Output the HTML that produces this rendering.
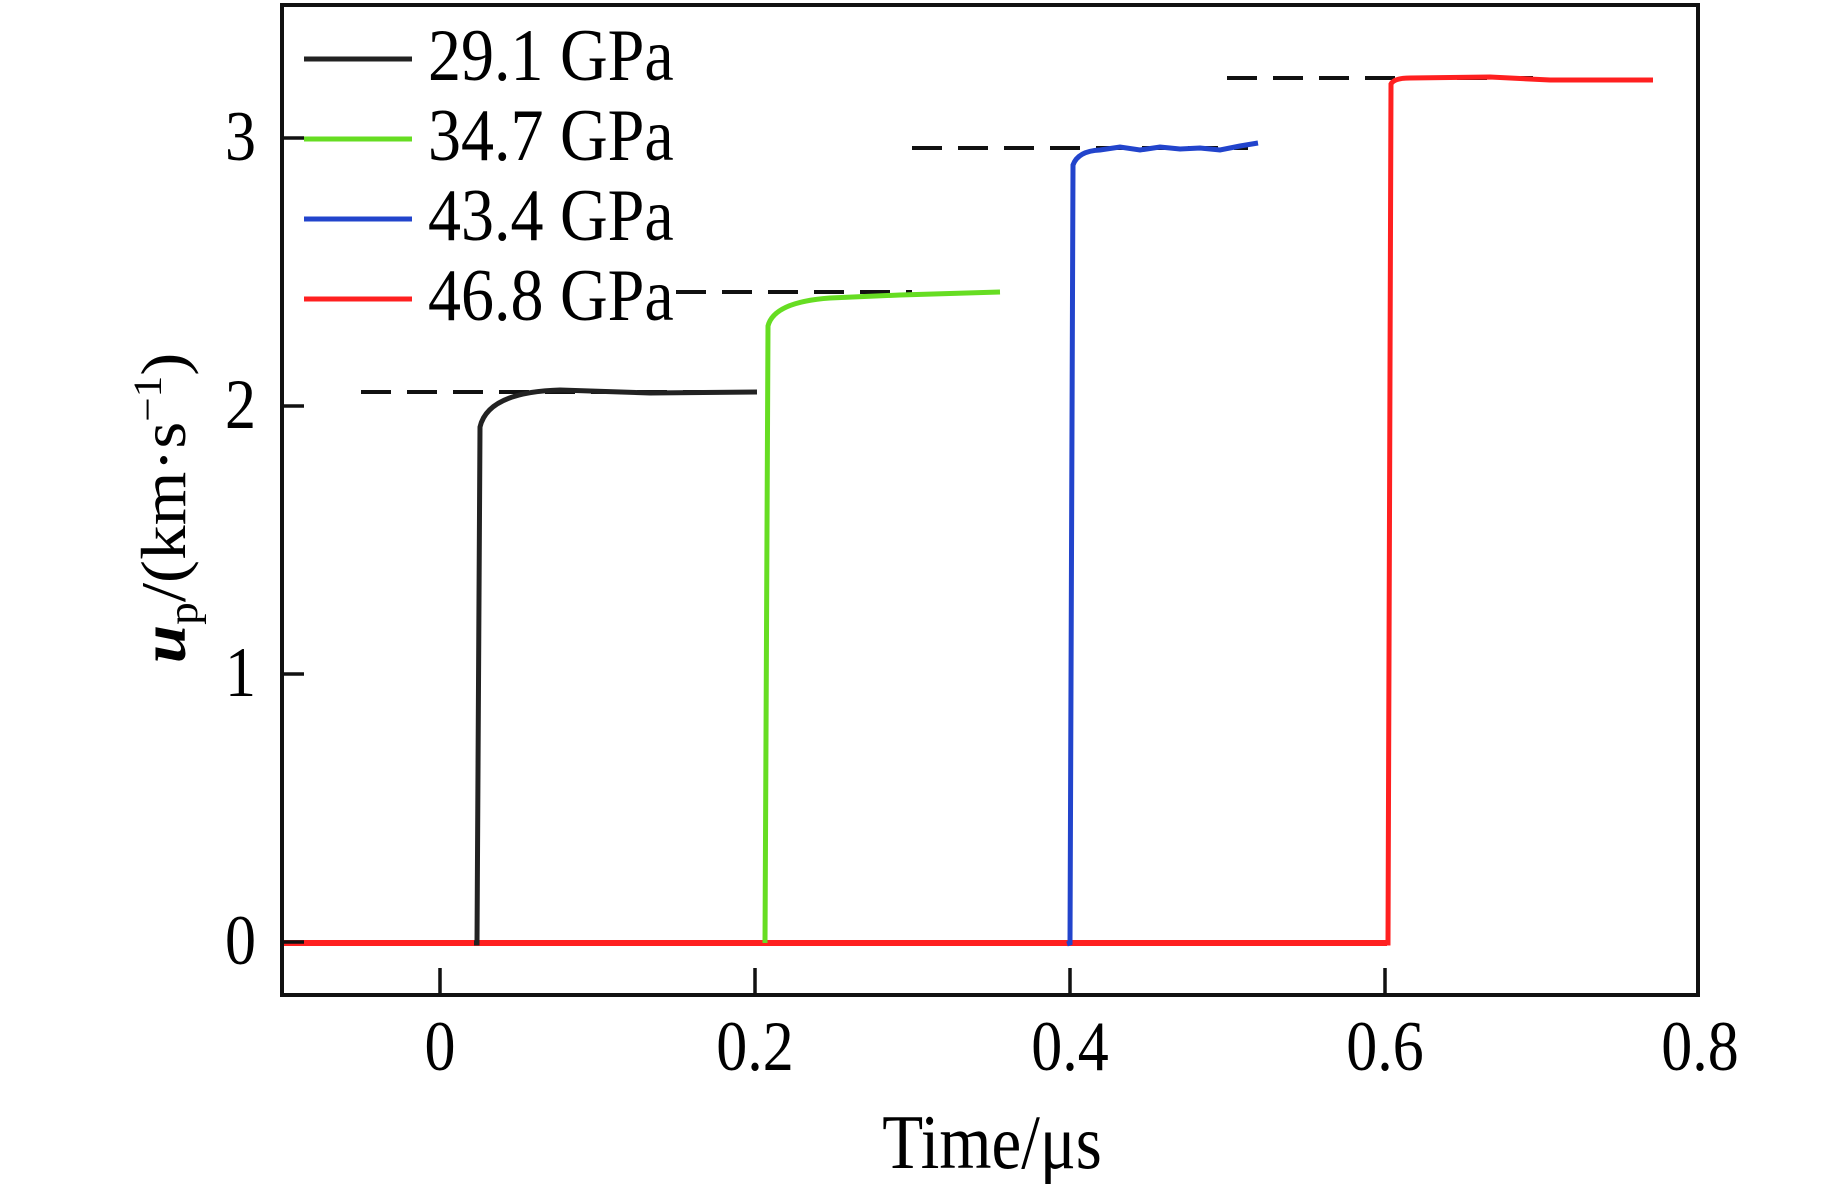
<!DOCTYPE html>
<html><head><meta charset="utf-8"><style>
html,body{margin:0;padding:0;background:#fff;}
svg{display:block;}
text{font-family:"Liberation Serif",serif;fill:#000;}
</style></head><body>
<svg width="1843" height="1184" viewBox="0 0 1843 1184" xmlns="http://www.w3.org/2000/svg">
<rect width="1843" height="1184" fill="#fff"/>
<path d="M282 943 L480 943" stroke="#222" stroke-width="4" fill="none"/>
<path d="M282 943 L765 943" stroke="#66dd22" stroke-width="4" fill="none"/>
<path d="M282 944 L1067 944" stroke="#2244cc" stroke-width="3" fill="none"/>
<path d="M282 943 L1387 943" stroke="#ff2020" stroke-width="6" fill="none"/>
<g stroke="#111" stroke-width="4" stroke-dasharray="30,16" fill="none">
<path d="M361 392 L755 392"/>
<path d="M676 292 L912 292"/>
<path d="M912 148 L1248 148"/>
<path d="M1227 78 L1542 78"/>
</g>
<path d="M474 943 L477 943 L480 427 Q488 392 560 390 L650 393 L757 392" stroke="#222" stroke-width="5" fill="none"/>
<path d="M765 943 L768 326 Q774 302 830 298 L900 295 L1000 292" stroke="#66dd22" stroke-width="5" fill="none"/>
<path d="M1067 944 L1070 943 L1073 165 Q1078 151 1100 150 L1120 147 L1140 150 L1160 147 L1180 149 L1200 148 L1220 150 L1240 146 L1258 143" stroke="#2244cc" stroke-width="5" fill="none"/>
<path d="M1387 943 L1388 943 L1391 84 Q1394 78 1410 78 L1490 77 L1550 80 L1653 80" stroke="#ff2020" stroke-width="5" fill="none"/>
<rect x="282" y="5" width="1416" height="990" fill="none" stroke="#111" stroke-width="4"/>
<g stroke="#111" stroke-width="3.5">
<path d="M440 995 V968 M755 995 V968 M1070 995 V968 M1385 995 V968"/>
<path d="M282 942 H304 M282 674 H304 M282 406 H304 M282 138 H304"/>
</g>
<g font-size="62" text-anchor="middle">
<text transform="translate(440,1070) scale(1,1.15)">0</text>
<text transform="translate(755,1070) scale(1,1.15)">0.2</text>
<text transform="translate(1070,1070) scale(1,1.15)">0.4</text>
<text transform="translate(1385,1070) scale(1,1.15)">0.6</text>
<text transform="translate(1700,1070) scale(1,1.15)">0.8</text>
<text font-size="67" transform="translate(992,1168) scale(1,1.15)">Time/μs</text>
</g>
<g font-size="62" text-anchor="end">
<text transform="translate(256,964) scale(1,1.15)">0</text>
<text transform="translate(256,696) scale(1,1.15)">1</text>
<text transform="translate(256,428) scale(1,1.15)">2</text>
<text transform="translate(256,160) scale(1,1.15)">3</text>
</g>
<text transform="translate(185,508) rotate(-90) scale(1.08,1)" font-size="64" text-anchor="middle"><tspan font-style="italic" font-weight="bold">u</tspan><tspan font-size="42" dy="12">p</tspan><tspan dy="-12">/(km·s</tspan><tspan font-size="40" dy="-24">−1</tspan><tspan dy="24">)</tspan></text>
<g stroke-width="5">
<path d="M304 59 H412" stroke="#222"/>
<path d="M304 139 H412" stroke="#66dd22"/>
<path d="M304 219 H412" stroke="#2244cc"/>
<path d="M304 299 H412" stroke="#ff2020"/>
</g>
<g font-size="66">
<text transform="translate(428,80) scale(1,1.12)">29.1 GPa</text>
<text transform="translate(428,160) scale(1,1.12)">34.7 GPa</text>
<text transform="translate(428,240) scale(1,1.12)">43.4 GPa</text>
<text transform="translate(428,320) scale(1,1.12)">46.8 GPa</text>
</g>
</svg>
</body></html>
